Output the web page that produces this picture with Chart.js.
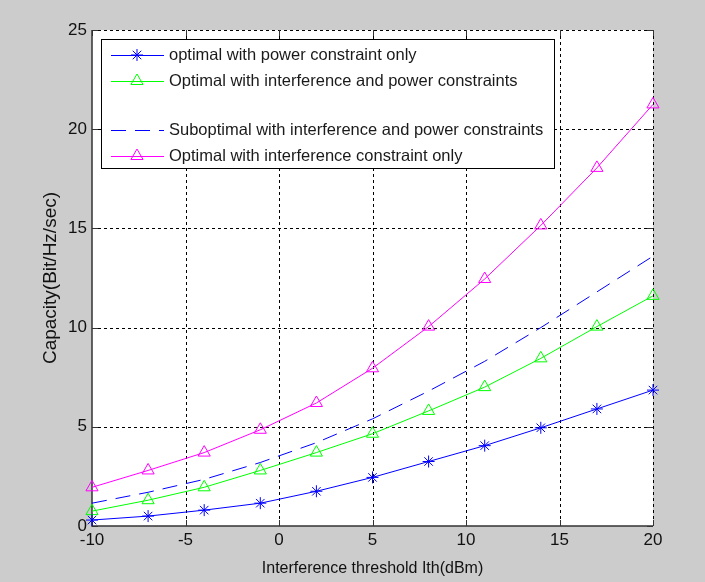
<!DOCTYPE html>
<html>
<head>
<meta charset="utf-8">
<script src="https://cdn.jsdelivr.net/npm/chart.js@4"></script>
<style>
  html, body { margin: 0; padding: 0; background: #cccccc; }
  #wrap { width: 705px; height: 582px; }
</style>
</head>
<body>
<div id="wrap"><canvas id="grafico" width="705" height="582"></canvas></div>
<script>
// ========== Dados ==========
const limiar = [-10, -7, -4, -1, 2, 5, 8, 11, 14, 17, 20];
const xTicks = [-10, -5, 0, 5, 10, 15, 20];
const yTicks = [0, 5, 10, 15, 20, 25];

const rotulos = [
  'optimal with power constraint only',
  'Optimal with interference and power constraints',
  'Suboptimal with interference and power constraints',
  'Optimal with interference constraint only'
];

const soPotencia = [0.3, 0.5, 0.8, 1.15, 1.75, 2.45, 3.25, 4.05, 4.95, 5.9, 6.85];
const otimoInterfPot = [0.75, 1.3, 1.95, 2.8, 3.7, 4.65, 5.8, 7.0, 8.45, 10.05, 11.6];
const subotimo = [1.15, 1.7, 2.35, 3.2, 4.2, 5.4, 6.8, 8.3, 10.0, 11.8, 13.6];
const soInterf = [1.95, 2.8, 3.7, 4.85, 6.2, 7.95, 10.05, 12.45, 15.15, 18.05, 21.25];

function pontos(valores) {
  return valores.map((v, i) => ({ x: limiar[i], y: v }));
}

const fonte = 'Liberation Sans, Arial, sans-serif';

// Legenda desenhada dentro do gráfico (com a linha em branco como no original)
const legendaPlugin = {
  id: 'legendaInterna',
  afterDraw(chart) {
    const c = chart.ctx;
    const x0 = 101, y0 = 39, w = 453, h = 129;
    c.save();
    c.fillStyle = '#ffffff';
    c.fillRect(x0, y0, w, h);
    c.strokeStyle = '#000000';
    c.lineWidth = 1;
    c.strokeRect(x0 + 0.5, y0 + 0.5, w, h);
    const linhasY = [55, 81, 130, 156];
    chart.data.datasets.forEach((ds, i) => {
      const y = linhasY[i];
      c.strokeStyle = ds.borderColor;
      c.lineWidth = 1;
      c.setLineDash(ds.borderDash || []);
      c.beginPath();
      c.moveTo(111, y + 0.5);
      c.lineTo(164, y + 0.5);
      c.stroke();
      c.setLineDash([]);
      if (ds.pointRadius > 0) {
        c.strokeStyle = ds.borderColor;
        c.fillStyle = 'rgba(0,0,0,0)';
        c.lineWidth = 1;
        Chart.helpers.drawPoint(c, {
          pointStyle: ds.pointStyle,
          radius: ds.pointRadius,
          borderWidth: 1,
          rotation: 0
        }, 137, y);
      }
      c.fillStyle = '#1a1a1a';
      c.font = '16.5px ' + fonte;
      c.textBaseline = 'middle';
      c.textAlign = 'left';
      c.fillText(ds.label, 169, y);
    });
    c.restore();
  }
};

new Chart(document.getElementById('grafico'), {
  type: 'line',
  data: {
    datasets: [
      {
        label: rotulos[0],
        data: pontos(soPotencia),
        borderColor: '#0000ff',
        backgroundColor: 'rgba(0,0,0,0)',
        borderWidth: 1,
        pointStyle: 'star',
        pointRadius: 6,
        pointBorderWidth: 1,
        clip: false,
        tension: 0
      },
      {
        label: rotulos[1],
        data: pontos(otimoInterfPot),
        borderColor: '#00ff00',
        backgroundColor: 'rgba(0,0,0,0)',
        borderWidth: 1,
        pointStyle: 'triangle',
        pointRadius: 7,
        pointBorderWidth: 1,
        clip: false,
        tension: 0
      },
      {
        label: rotulos[2],
        data: pontos(subotimo),
        borderColor: '#0000ff',
        backgroundColor: 'rgba(0,0,0,0)',
        borderWidth: 1,
        borderDash: [15, 9],
        pointRadius: 0,
        tension: 0
      },
      {
        label: rotulos[3],
        data: pontos(soInterf),
        borderColor: '#ff00ff',
        backgroundColor: 'rgba(0,0,0,0)',
        borderWidth: 1,
        pointStyle: 'triangle',
        pointRadius: 7,
        pointBorderWidth: 1,
        clip: false,
        tension: 0
      }
    ]
  },
  options: {
    responsive: false,
    animation: false,
    layout: { padding: { top: 30, right: 52, left: 0, bottom: 0 } },
    plugins: {
      legend: { display: false },
      tooltip: { enabled: false }
    },
    scales: {
      x: {
        type: 'linear',
        min: -10,
        max: 20,
        afterBuildTicks: s => { s.ticks = xTicks.map(v => ({ value: v })); },
        afterFit: s => { s.height = 56; },
        grid: { display: false, drawTicks: false },
        border: { display: false },
        ticks: { color: '#111111', font: { family: fonte, size: 17 }, padding: 4 },
        title: {
          display: true,
          text: 'Interference threshold Ith(dBm)',
          color: '#111111',
          font: { family: fonte, size: 16 },
          padding: { top: 3 }
        }
      },
      y: {
        type: 'linear',
        min: 0,
        max: 25,
        afterBuildTicks: s => { s.ticks = yTicks.map(v => ({ value: v })); },
        afterFit: s => { s.width = 92; },
        grid: { display: false, drawTicks: false },
        border: { display: false },
        ticks: { color: '#111111', font: { family: fonte, size: 17 }, padding: 5 },
        title: {
          display: true,
          text: 'Capacity(Bit/Hz/sec)',
          color: '#111111',
          font: { family: fonte, size: 19 },
          padding: { top: 39, bottom: 0 }
        }
      }
    }
  },
  plugins: [
    {
      id: 'fundo',
      beforeDraw(chart) {
        const c = chart.ctx, a = chart.chartArea;
        c.save();
        c.fillStyle = '#cccccc';
        c.fillRect(0, 0, chart.width, chart.height);
        c.fillStyle = '#ffffff';
        c.fillRect(a.left, a.top, a.right - a.left, a.bottom - a.top);
        c.restore();
      }
    },
    {
      id: 'gradeTracejada',
      beforeDatasetsDraw(chart) {
        // grade pontilhada como no MATLAB
        const c = chart.ctx, a = chart.chartArea;
        const sx = chart.scales.x, sy = chart.scales.y;
        c.save();
        c.strokeStyle = '#000000';
        c.lineWidth = 1;
        c.setLineDash([3, 3]);
        xTicks.forEach(v => {
          if (v === xTicks[0]) return;
          const px = Math.round(sx.getPixelForValue(v)) + 0.5;
          c.beginPath(); c.moveTo(px, a.top); c.lineTo(px, a.bottom); c.stroke();
        });
        yTicks.forEach(v => {
          if (v === yTicks[0]) return;
          const py = Math.round(sy.getPixelForValue(v)) + 0.5;
          c.beginPath(); c.moveTo(a.left, py); c.lineTo(a.right, py); c.stroke();
        });
        c.setLineDash([]);
        c.strokeStyle = '#333333';
        c.lineWidth = 1.5;
        c.beginPath();
        c.moveTo(a.left, a.top); c.lineTo(a.left, a.bottom); c.lineTo(a.right, a.bottom);
        c.stroke();
        // pequenos traços de marcação para dentro
        c.lineWidth = 1;
        xTicks.forEach(v => {
          const px = Math.round(sx.getPixelForValue(v)) + 0.5;
          c.beginPath(); c.moveTo(px, a.bottom); c.lineTo(px, a.bottom - 6); c.stroke();
          c.beginPath(); c.moveTo(px, a.top); c.lineTo(px, a.top + 6); c.stroke();
        });
        yTicks.forEach(v => {
          const py = Math.round(sy.getPixelForValue(v)) + 0.5;
          c.beginPath(); c.moveTo(a.left, py); c.lineTo(a.left + 6, py); c.stroke();
          c.beginPath(); c.moveTo(a.right, py); c.lineTo(a.right - 6, py); c.stroke();
        });
        c.restore();
      }
    },
    legendaPlugin
  ]
});
</script>
</body>
</html>
